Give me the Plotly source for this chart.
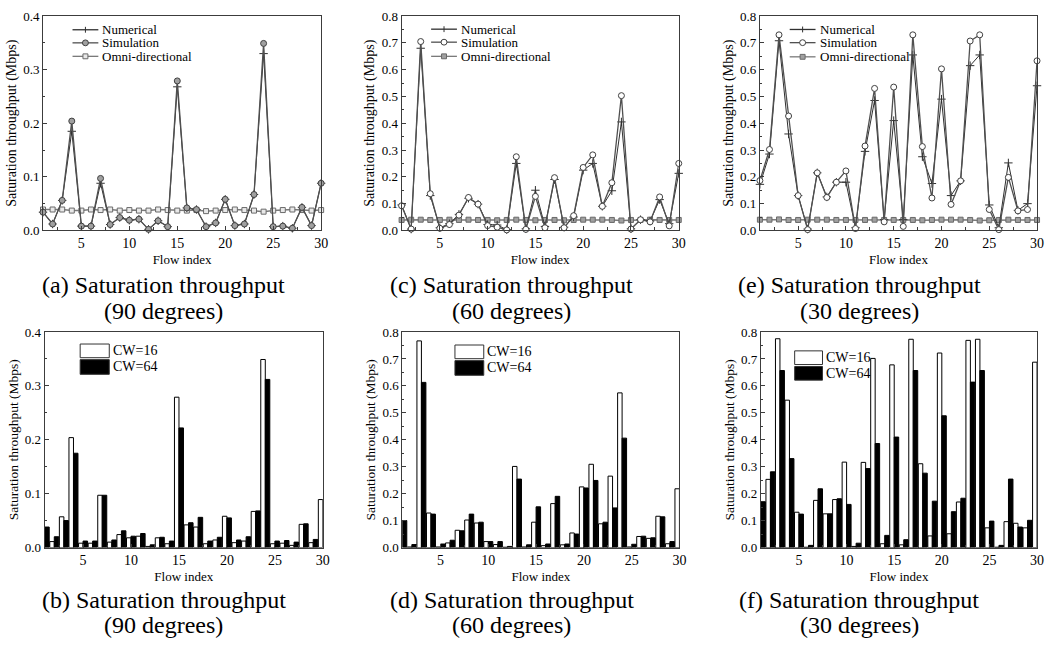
import plotly.graph_objects as go

W, H = 1051, 649

flow = list(range(1, 31))

# ---- (a) 90 degrees, line chart
num90 = [0.034, 0.012, 0.056, 0.185, 0.008, 0.008, 0.088, 0.011, 0.024, 0.019,
         0.021, 0.002, 0.018, 0.007, 0.268, 0.042, 0.039, 0.007, 0.014, 0.058,
         0.009, 0.012, 0.067, 0.330, 0.007, 0.008, 0.004, 0.043, 0.009, 0.088]
sim90 = [0.034, 0.012, 0.056, 0.204, 0.008, 0.008, 0.097, 0.011, 0.024, 0.019,
         0.021, 0.002, 0.018, 0.007, 0.279, 0.042, 0.039, 0.007, 0.014, 0.058,
         0.009, 0.012, 0.067, 0.349, 0.007, 0.008, 0.004, 0.043, 0.009, 0.088]
omni90 = [0.039, 0.039, 0.039, 0.037, 0.037, 0.039, 0.038, 0.039, 0.037, 0.038,
          0.037, 0.037, 0.039, 0.038, 0.037, 0.037, 0.038, 0.036, 0.037, 0.038,
          0.039, 0.038, 0.037, 0.035, 0.037, 0.038, 0.039, 0.038, 0.037, 0.038]

# ---- (c) 60 degrees, line chart
num60 = [0.095, 0.005, 0.680, 0.130, 0.010, 0.025, 0.060, 0.120, 0.098, 0.022,
         0.020, 0.003, 0.250, 0.006, 0.150, 0.015, 0.190, 0.012, 0.050, 0.225,
         0.250, 0.090, 0.148, 0.405, 0.006, 0.040, 0.035, 0.115, 0.025, 0.213]
sim60 = [0.092, 0.005, 0.705, 0.137, 0.008, 0.022, 0.057, 0.123, 0.098, 0.018,
         0.012, 0.002, 0.275, 0.004, 0.127, 0.010, 0.197, 0.010, 0.055, 0.235,
         0.282, 0.090, 0.178, 0.503, 0.005, 0.040, 0.032, 0.125, 0.017, 0.250]
omni60 = [0.039, 0.040, 0.040, 0.039, 0.039, 0.040, 0.039, 0.040, 0.039, 0.039,
          0.038, 0.039, 0.040, 0.039, 0.038, 0.039, 0.039, 0.038, 0.039, 0.040,
          0.040, 0.040, 0.039, 0.037, 0.039, 0.039, 0.040, 0.039, 0.039, 0.039]

# ---- (e) 30 degrees, line chart
num30 = [0.172, 0.285, 0.708, 0.360, 0.130, 0.005, 0.215, 0.125, 0.180, 0.180,
         0.010, 0.295, 0.485, 0.040, 0.410, 0.040, 0.655, 0.275, 0.175, 0.490,
         0.130, 0.185, 0.615, 0.655, 0.095, 0.010, 0.252, 0.075, 0.100, 0.540]
sim30 = [0.186, 0.302, 0.730, 0.427, 0.130, 0.003, 0.215, 0.123, 0.180, 0.222,
         0.007, 0.315, 0.530, 0.032, 0.535, 0.015, 0.730, 0.313, 0.121, 0.603,
         0.097, 0.185, 0.707, 0.730, 0.078, 0.003, 0.198, 0.073, 0.078, 0.633]
omni30 = [0.040, 0.040, 0.041, 0.039, 0.039, 0.040, 0.040, 0.040, 0.039, 0.039,
          0.039, 0.039, 0.040, 0.039, 0.039, 0.039, 0.039, 0.038, 0.039, 0.040,
          0.040, 0.040, 0.039, 0.037, 0.038, 0.039, 0.040, 0.039, 0.039, 0.039]

# ---- (b) 90 degrees, bars (None = hidden outside the axis range)
cw16_90 = [None, 0.011, 0.057, 0.204, 0.008, 0.008, 0.097, 0.010, 0.024, 0.018,
           0.021, 0.002, 0.018, 0.007, 0.279, 0.042, 0.038, 0.007, 0.014, 0.058,
           0.009, 0.012, 0.067, 0.349, 0.007, 0.008, 0.004, 0.043, 0.009, 0.089]
cw64_90 = [0.038, 0.020, 0.050, 0.175, 0.012, 0.012, 0.097, 0.014, 0.031, 0.021,
           0.026, 0.005, 0.019, 0.012, 0.222, 0.046, 0.056, 0.012, 0.019, 0.055,
           0.014, 0.020, 0.068, 0.312, 0.012, 0.013, 0.010, 0.044, 0.015, None]

# ---- (d) 60 degrees, bars
cw16_60 = [None, 0.002, 0.767, 0.128, 0.002, 0.017, 0.064, 0.102, 0.091, 0.022,
           0.011, 0.001, 0.301, 0.002, 0.094, 0.007, 0.163, 0.010, 0.054, 0.225,
           0.309, 0.088, 0.265, 0.574, 0.002, 0.041, 0.034, 0.116, 0.014, 0.218]
cw64_60 = [0.100, 0.011, 0.613, 0.124, 0.013, 0.027, 0.062, 0.124, 0.094, 0.022,
           0.022, 0.004, 0.254, 0.010, 0.151, 0.013, 0.190, 0.013, 0.050, 0.221,
           0.249, 0.094, 0.147, 0.406, 0.012, 0.042, 0.036, 0.114, 0.022, None]

# ---- (f) 30 degrees, bars
cw16_30 = [None, 0.253, 0.775, 0.547, 0.131, 0.001, 0.175, 0.125, 0.178, 0.317,
           0.004, 0.316, 0.702, 0.014, 0.678, 0.010, 0.773, 0.311, 0.043, 0.722,
           0.051, 0.169, 0.769, 0.773, 0.073, 0.001, 0.096, 0.090, 0.073, 0.688]
cw64_30 = [0.170, 0.281, 0.657, 0.330, 0.124, 0.008, 0.218, 0.125, 0.181, 0.160,
           0.016, 0.293, 0.386, 0.045, 0.410, 0.029, 0.657, 0.276, 0.172, 0.489,
           0.133, 0.183, 0.614, 0.657, 0.098, 0.008, 0.254, 0.076, 0.101, None]

captions = [
    ("(a) Saturation throughput", "(90 degrees)"),
    ("(c) Saturation throughput", "(60 degrees)"),
    ("(e) Saturation throughput", "(30 degrees)"),
    ("(b) Saturation throughput", "(90 degrees)"),
    ("(d) Saturation throughput", "(60 degrees)"),
    ("(f) Saturation throughput", "(30 degrees)"),
]
y_title = "Saturation throughput (Mbps)"
x_title = "Flow index"
names_line = ["Numerical", "Simulation", "Omni-directional"]
names_bar = ["CW=16", "CW=64"]

FONT = "Liberation Serif"
AX = "#3c3c3c"
C_NUM, C_SIM, C_OMNI = "#303030", "#505050", "#7a7a7a"

# panel pixel boxes: (left, right, top, bottom)
boxes = [
    (43.3, 323.3, 9.3, 228.7),
    (404.3, 683.3, 9.3, 228.7),
    (765, 1044, 9.3, 228.7),
    (45, 325, 332.7, 553.3),
    (405, 684, 332.7, 553.3),
    (766, 1044, 332.7, 553.3),
]
ymax = [0.4, 0.8, 0.8, 0.4, 0.8, 0.8]

def px(x):
    return x / W

def py(y):
    return 1 - y / H

fig = go.Figure()

line_sets = [(num90, sim90, omni90), (num60, sim60, omni60), (num30, sim30, omni30)]
sim_fills = ["#a0a0a0", "white", "white"]
omni_fills = ["#e8e8e8", "#a0a0a0", "#a0a0a0"]
for i, (nm, sm, om) in enumerate(line_sets):
    xa = "x" if i == 0 else f"x{i+1}"
    ya = "y" if i == 0 else f"y{i+1}"
    fig.add_trace(go.Scatter(
        x=flow, y=om, name=names_line[2], xaxis=xa, yaxis=ya, showlegend=False,
        mode="lines+markers", cliponaxis=False,
        line=dict(color=C_OMNI, width=1.5),
        marker=dict(symbol="square", size=5, color=omni_fills[i],
                    line=dict(color="#6a6a6a", width=1))))
    fig.add_trace(go.Scatter(
        x=flow, y=nm, name=names_line[0], xaxis=xa, yaxis=ya, showlegend=False,
        mode="lines+markers", cliponaxis=False,
        line=dict(color=C_NUM, width=1),
        marker=dict(symbol="cross-thin", size=6, line=dict(color=C_NUM, width=1))))
    fig.add_trace(go.Scatter(
        x=flow, y=sm, name=names_line[1], xaxis=xa, yaxis=ya, showlegend=False,
        mode="lines+markers", cliponaxis=False,
        line=dict(color=C_SIM, width=1.3),
        marker=dict(symbol="circle", size=6, color=sim_fills[i],
                    line=dict(color="#404040", width=1))))

bar_sets = [(cw16_90, cw64_90), (cw16_60, cw64_60), (cw16_30, cw64_30)]
for j, (a16, a64) in enumerate(bar_sets):
    k = j + 4
    xa, ya = f"x{k}", f"y{k}"
    fig.add_trace(go.Bar(
        x=flow, y=a16, name=names_bar[0], xaxis=xa, yaxis=ya, showlegend=False,
        offsetgroup=f"a{k}", marker=dict(color="white", line=dict(color="black", width=1))))
    fig.add_trace(go.Bar(
        x=flow, y=a64, name=names_bar[1], xaxis=xa, yaxis=ya, showlegend=False,
        offsetgroup=f"b{k}", marker=dict(color="black", line=dict(color="black", width=1))))

layout = dict(
    width=W, height=H, margin=dict(l=0, r=0, t=0, b=0),
    paper_bgcolor="white", plot_bgcolor="white",
    font=dict(family=FONT, color="black", size=13),
    barmode="group", bargap=0.06, bargroupgap=0.0,
    showlegend=False,
)

for i, (l, r, t, b) in enumerate(boxes):
    sfx = "" if i == 0 else str(i + 1)
    layout["xaxis" + sfx] = dict(
        domain=[px(l), px(r)], anchor="y" + sfx, range=[1, 30],
        tickvals=[5, 10, 15, 20, 25, 30], ticks="inside", ticklen=4,
        tickcolor=AX, linecolor=AX, linewidth=1, mirror=True, showgrid=False,
        zeroline=False, tickfont=dict(size=14),
        minor=dict(tick0=2.5, dtick=5, ticks="inside", ticklen=3, tickcolor=AX),
        title=dict(text=x_title, font=dict(size=13), standoff=4),
    )
    layout["yaxis" + sfx] = dict(
        domain=[py(b), py(t)], anchor="x" + sfx, range=[0, ymax[i]],
        dtick=0.1, tickformat=".1f", ticks="inside", ticklen=4,
        tickcolor=AX, linecolor=AX, linewidth=1, mirror=True, showgrid=False,
        zeroline=False, tickfont=dict(size=13),
        minor=dict(dtick=0.05, ticks="inside", ticklen=2, tickcolor=AX),
        title=dict(text=y_title, font=dict(size=14 if i < 3 else 13.5), standoff=3),
    )

fig.update_layout(**layout)

shapes = []
annots = []

# ---- line-chart legends (drawn as key glyphs + text)
# (line x0, line x1, text x, row y's)
line_leg = [(73, 99, 101, (23.3, 36.7, 50.5)),
            (434, 460, 462, (22.7, 36, 50.5)),
            (795, 821, 823, (23, 36.5, 51))]
for i, (x0, x1, tx, rows) in enumerate(line_leg):
    xm = (x0 + x1) / 2
    cols = [C_NUM, C_SIM, C_OMNI]
    for r, (nm, yy, col) in enumerate(zip(names_line, rows, cols)):
        shapes.append(dict(type="line", xref="paper", yref="paper",
                           x0=px(x0), x1=px(x1), y0=py(yy), y1=py(yy),
                           line=dict(color=col, width=1.3)))
        if r == 0:
            shapes.append(dict(type="line", xref="paper", yref="paper",
                               x0=px(xm), x1=px(xm), y0=py(yy - 3), y1=py(yy + 3),
                               line=dict(color=col, width=1)))
        elif r == 1:
            shapes.append(dict(type="circle", xref="paper", yref="paper",
                               x0=px(xm - 3), x1=px(xm + 3), y0=py(yy + 3), y1=py(yy - 3),
                               fillcolor=sim_fills[i], line=dict(color="#404040", width=1)))
        else:
            shapes.append(dict(type="rect", xref="paper", yref="paper",
                               x0=px(xm - 2.5), x1=px(xm + 2.5), y0=py(yy + 2.5), y1=py(yy - 2.5),
                               fillcolor=omni_fills[i], line=dict(color="#6a6a6a", width=1)))
        annots.append(dict(text=nm, x=px(tx), y=py(yy), xref="paper", yref="paper",
                           xanchor="left", yanchor="middle", showarrow=False,
                           font=dict(size=13, family=FONT, color="black")))

# ---- bar-chart legends
# (box x0, box x1, text x, (white top, white bottom), (black top, black bottom))
bar_leg = [(80.7, 110, 111.5, (345, 359), (361, 376)),
           (458, 487, 488.5, (346, 360), (362, 377)),
           (800, 828, 829.5, (352, 366), (368, 382))]
for (x0, x1, tx, wb, bb) in bar_leg:
    for nm, (t0, b0), fc in ((names_bar[0], wb, "white"), (names_bar[1], bb, "black")):
        shapes.append(dict(type="rect", xref="paper", yref="paper",
                           x0=px(x0), x1=px(x1), y0=py(b0), y1=py(t0),
                           fillcolor=fc, line=dict(color="#333333", width=1)))
        annots.append(dict(text=nm, x=px(tx), y=py((t0 + b0) / 2), xref="paper", yref="paper",
                           xanchor="left", yanchor="middle", showarrow=False,
                           font=dict(size=14, family=FONT, color="black")))

# ---- captions
cap_x = [165, 515, 865, 165, 515, 865]
cap_y = [(285, 311), (285, 311), (285, 311), (607, 633), (607, 633), (607, 633)]
for (c1, c2), cx, (y1, y2) in zip(captions, cap_x, cap_y):
    for txt, yy in ((c1, y1), (c2, y2)):
        annots.append(dict(text=txt, x=px(cx), y=py(yy), xref="paper", yref="paper",
                           xanchor="center", yanchor="middle", showarrow=False,
                           font=dict(size=24, family=FONT, color="black")))

fig.update_layout(shapes=shapes, annotations=annots)

fig.write_html("out.html", config={"displayModeBar": False},
               post_script="document.body.style.margin='0px';document.body.style.padding='0px';")
